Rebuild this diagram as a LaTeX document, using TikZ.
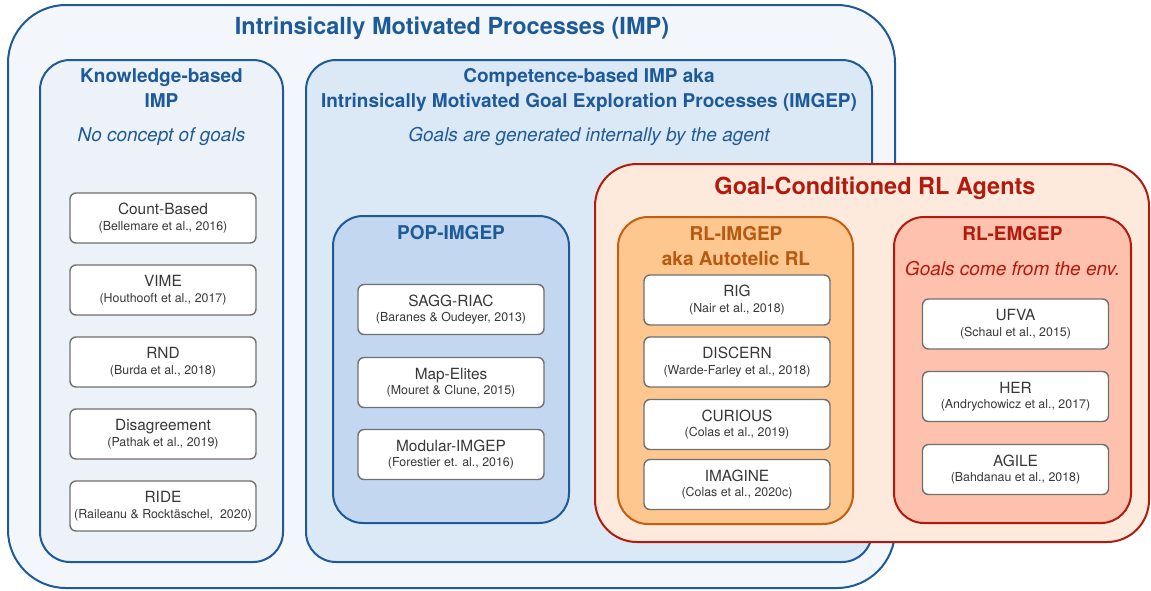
\documentclass[tikz,border=0pt]{standalone}
\usepackage{fontspec}
\setmainfont{TeX Gyre Heros}
\definecolor{impblue}{HTML}{1F5A98}
\definecolor{impfill}{HTML}{F3F7FC}
\definecolor{knowfill}{HTML}{ECF2F8}
\definecolor{compfill}{HTML}{DBE8F6}
\definecolor{popfill}{HTML}{C3D8F0}
\definecolor{gcred}{HTML}{B31A0E}
\definecolor{gcfill}{HTML}{FDEADC}
\definecolor{rlistroke}{HTML}{C2600F}
\definecolor{rlifill}{HTML}{FDC78F}
\definecolor{rlitext}{HTML}{B65A12}
\definecolor{rlefill}{HTML}{FEC1AD}
\definecolor{itemgray}{HTML}{707070}
\definecolor{itemtext}{HTML}{383838}
\tikzset{
  container/.style={line width=2pt, rounded corners=30pt},
  item/.style={draw=itemgray, fill=white, line width=1.4pt, rounded corners=6pt,
    minimum width=186pt, minimum height=50pt, align=center, inner sep=0pt,
    text=itemtext, font=\fontsize{12.4}{15.5}\selectfont},
  heading/.style={font=\fontsize{19}{23}\selectfont\bfseries, inner sep=0pt, anchor=base},
  bigtitle/.style={font=\fontsize{23.5}{28}\selectfont\bfseries, inner sep=0pt, anchor=base},
  note/.style={font=\fontsize{19}{23}\selectfont\itshape, inner sep=0pt, anchor=base},
}
\newcommand\itm[2]{{\fontsize{15.4}{15.5}\selectfont #1}\\#2}
\begin{document}
\begin{tikzpicture}[x=1pt,y=-1pt]
\useasboundingbox (0,0) rectangle (1151,590);

% outer IMP
\draw[container, rounded corners=58pt, draw=impblue, fill=impfill] (8,5) rectangle (895,588);
\node[bigtitle, text=impblue] (imptitle) at (452,34.5) {Intrinsically Motivated Processes (IMP)};

% knowledge-based
\draw[container, draw=impblue, fill=knowfill] (40,60) rectangle (283,562);
\node[heading, text=impblue] (know1) at (161.5,82) {Knowledge-based};
\node[heading, text=impblue] (know2) at (161.5,107) {IMP};
\node[note, text=impblue] (knownote) at (161.5,141) {No concept of goals};
\node[item] (count) at (163,218) {\itm{Count-Based}{(Bellemare et al., 2016)}};
\node[item] (vime) at (163,290) {\itm{VIME}{(Houthooft et al., 2017)}};
\node[item] (rnd) at (163,362) {\itm{RND}{(Burda et al., 2018)}};
\node[item] (disag) at (163,434) {\itm{Disagreement}{(Pathak et al., 2019)}};
\node[item] (ride) at (163,506) {\itm{RIDE}{(Raileanu \& Rocktäschel,\ \ 2020)}};

% competence-based
\draw[container, draw=impblue, fill=compfill] (306,60) rectangle (872,562);
\node[heading, text=impblue] (comp1) at (589,82) {Competence-based IMP aka};
\node[heading, text=impblue] (comp2) at (589,107) {Intrinsically Motivated Goal Exploration Processes (IMGEP)};
\node[note, text=impblue] (compnote) at (589,141) {Goals are generated internally by the agent};

% POP-IMGEP
\draw[container, draw=impblue, fill=popfill] (333,216) rectangle (569,523);
\node[heading, text=impblue] (pop) at (451,239) {POP-IMGEP};
\node[item] (sagg) at (451,309.5) {\itm{SAGG-RIAC}{(Baranes \& Oudeyer, 2013)}};
\node[item] (mapel) at (451,382.5) {\itm{Map-Elites}{(Mouret \& Clune, 2015)}};
\node[item] (modular) at (451,454.5) {\itm{Modular-IMGEP}{(Forestier et. al., 2016)}};

% goal-conditioned
\draw[container, rounded corners=42pt, draw=gcred, fill=gcfill] (595,164) rectangle (1149,542);
\node[bigtitle, text=gcred] (gctitle) at (875,194.5) {Goal-Conditioned RL Agents};

% RL-IMGEP
\draw[container, draw=rlistroke, fill=rlifill] (618,217) rectangle (853,524);
\node[heading, text=rlitext] (rli1) at (736,240) {RL-IMGEP};
\node[heading, text=rlitext] (rli2) at (736,265) {aka Autotelic RL};
\node[item] (rig) at (737,300) {\itm{RIG}{(Nair et al., 2018)}};
\node[item] (discern) at (737,362) {\itm{DISCERN}{(Warde-Farley et al., 2018)}};
\node[item] (curious) at (737,424.5) {\itm{CURIOUS}{(Colas et al., 2019)}};
\node[item] (imagine) at (737,484.5) {\itm{IMAGINE}{(Colas et al., 2020c)}};

% RL-EMGEP
\draw[container, draw=gcred, fill=rlefill] (894,217) rectangle (1131,523);
\node[heading, text=gcred] (rle) at (1012.5,240) {RL-EMGEP};
\node[note, text=gcred] (rlenote) at (1012.5,275) {Goals come from the env.};
\node[item] (ufva) at (1015.5,324) {\itm{UFVA}{(Schaul et al., 2015)}};
\node[item] (her) at (1015.5,396.5) {\itm{HER}{(Andrychowicz et al., 2017)}};
\node[item] (agile) at (1015.5,469.5) {\itm{AGILE}{(Bahdanau et al., 2018)}};
\end{tikzpicture}
\end{document}
